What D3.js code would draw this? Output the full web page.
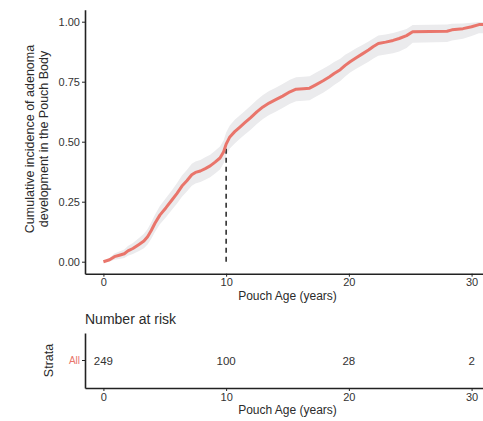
<!DOCTYPE html>
<html lang="en">

<head>
  <meta charset="UTF-8">
  <title>Cumulative incidence of adenoma</title>

  <style>
    * {
      margin: 0;
    }

    body {
      background: #fff;
      font-family: "Liberation Sans", Arial, Helvetica, sans-serif;
    }

    svg {
      display: block;
    }

    .tick text {
      font-size: 11px;
      fill: #333;
    }

    .tick line,
    .domain {
      stroke: #222;
    }

    .title {
      fill: #2b2b2b;
    }
  </style>
</head>

<body>
  <div id="chart"></div>
  <script src="https://cdnjs.cloudflare.com/ajax/libs/d3/7.8.5/d3.min.js"></script>
  <script type="text/javascript">
    // values (years, cumulative incidence, 95% band)
    const times = [0, 0.5, 0.9, 1.3, 1.7, 2.0, 2.4, 2.9, 3.3, 3.6, 3.9, 4.2, 4.6, 5.1, 5.6, 6.0, 6.4, 6.8, 7.2, 7.5,
      7.9, 8.3, 8.7, 9.1, 9.5, 9.8, 10.0, 10.3, 10.7, 11.1, 11.5, 12.0, 12.5, 13.0, 13.5, 14.0, 14.6, 15.2, 15.7,
      16.3, 16.8, 17.3, 17.9, 18.4, 18.8, 19.3, 19.7, 20.1, 20.6, 21.1, 21.6, 22.0, 22.4, 23.0, 23.6, 24.1, 24.7,
      25.2, 28.0, 28.4, 29.3, 30.0, 30.6, 31.0];
    const estimate = [0, 0.008, 0.021, 0.027, 0.033, 0.045, 0.055, 0.072, 0.086, 0.104, 0.130, 0.160, 0.194, 0.225,
      0.258, 0.285, 0.315, 0.337, 0.362, 0.372, 0.378, 0.388, 0.399, 0.415, 0.432, 0.458, 0.490, 0.520, 0.542,
      0.560, 0.578, 0.600, 0.624, 0.645, 0.661, 0.674, 0.690, 0.708, 0.719, 0.721, 0.723, 0.737, 0.754, 0.770,
      0.784, 0.800, 0.818, 0.833, 0.850, 0.866, 0.882, 0.897, 0.909, 0.915, 0.922, 0.930, 0.942, 0.958, 0.960,
      0.966, 0.971, 0.979, 0.988, 0.988];
    const lower = [0, 0.001, 0.008, 0.011, 0.015, 0.025, 0.032, 0.045, 0.056, 0.072, 0.096, 0.124, 0.156, 0.185,
      0.217, 0.242, 0.271, 0.292, 0.316, 0.326, 0.332, 0.341, 0.352, 0.368, 0.384, 0.410, 0.442, 0.472, 0.493,
      0.511, 0.529, 0.550, 0.574, 0.595, 0.611, 0.624, 0.640, 0.658, 0.669, 0.671, 0.673, 0.687, 0.704, 0.721,
      0.736, 0.753, 0.772, 0.788, 0.804, 0.819, 0.833, 0.847, 0.858, 0.863, 0.869, 0.876, 0.890, 0.912, 0.915,
      0.922, 0.929, 0.940, 0.952, 0.952];
    const upper = [0, 0.015, 0.034, 0.043, 0.051, 0.065, 0.078, 0.099, 0.116, 0.136, 0.164, 0.196, 0.232, 0.265,
      0.299, 0.328, 0.359, 0.382, 0.408, 0.418, 0.424, 0.435, 0.446, 0.462, 0.480, 0.506, 0.538, 0.568, 0.591,
      0.609, 0.627, 0.650, 0.674, 0.695, 0.711, 0.724, 0.740, 0.758, 0.769, 0.771, 0.773, 0.787, 0.804, 0.819,
      0.832, 0.846, 0.862, 0.874, 0.889, 0.903, 0.917, 0.930, 0.942, 0.947, 0.953, 0.960, 0.970, 0.986, 0.988,
      0.991, 0.993, 0.996, 0.999, 0.999];

    const medianTime = 10;
    const xTicks = [0, 10, 20, 30];
    const yTicks = [0, 0.25, 0.5, 0.75, 1];

    const strata = ['All'];
    const riskTimes = [0, 10, 20, 30];
    const riskCounts = [249, 100, 28, 2];

    const curveColor = '#E9756B';

    const svg = d3.select('#chart')
      .append('svg')
      .attr('width', 483)
      .attr('height', 421);

    const x = d3.scaleLinear()
      .domain([-1.5, 31.5])
      .range([85, 490]);

    const y = d3.scaleLinear()
      .domain([-0.05, 1.05])
      .range([273.7, 9.7]);

    const rows = times.map((t, i) => ({ t, est: estimate[i], lo: lower[i], hi: upper[i] }));

    // confidence band
    svg.append('path')
      .datum(rows)
      .attr('fill', '#ebebed')
      .attr('d', d3.area()
        .x(d => x(d.t))
        .y0(d => y(d.lo))
        .y1(d => y(d.hi)));

    // median line
    svg.append('line')
      .attr('x1', x(medianTime))
      .attr('x2', x(medianTime))
      .attr('y1', y(0))
      .attr('y2', y(estimate[times.indexOf(medianTime)]))
      .attr('stroke', '#222')
      .attr('stroke-width', 1.5)
      .attr('stroke-dasharray', '5,4');

    // curve
    svg.append('path')
      .datum(rows)
      .attr('fill', 'none')
      .attr('stroke', curveColor)
      .attr('stroke-width', 3)
      .attr('stroke-linejoin', 'round')
      .attr('d', d3.line()
        .x(d => x(d.t))
        .y(d => y(d.est)));

    // axes
    svg.append('g')
      .attr('transform', 'translate(0,273.7)')
      .call(d3.axisBottom(x).tickValues(xTicks).tickSize(3).tickPadding(2).tickSizeOuter(0))
      .call(g => g.select('.domain').attr('stroke-width', 1.6));

    svg.append('g')
      .attr('transform', 'translate(85,0)')
      .call(d3.axisLeft(y).tickValues(yTicks).tickFormat(d3.format('.2f')).tickSize(3).tickPadding(2).tickSizeOuter(0))
      .call(g => g.select('.domain').attr('stroke-width', 1.6));

    svg.append('text')
      .attr('class', 'title')
      .attr('x', 287.5)
      .attr('y', 300)
      .attr('text-anchor', 'middle')
      .style('font-size', '12px')
      .text('Pouch Age (years)');

    const yTitle = svg.append('text')
      .attr('class', 'title')
      .attr('transform', 'translate(34,139) rotate(-90)')
      .attr('text-anchor', 'middle')
      .style('font-size', '12.5px');
    yTitle.append('tspan').attr('x', 0).attr('dy', 0).text('Cumulative incidence of adenoma');
    yTitle.append('tspan').attr('x', 0).attr('dy', 13.5).text('development in the Pouch Body');

    // number at risk table
    svg.append('text')
      .attr('class', 'title')
      .attr('x', 85)
      .attr('y', 324)
      .style('font-size', '14px')
      .text('Number at risk');

    const ys = d3.scaleBand()
      .domain(strata)
      .range([333, 388]);

    svg.selectAll('.risk')
      .data(riskTimes)
      .enter().append('text')
      .attr('class', 'risk')
      .attr('x', d => x(d))
      .attr('y', ys('All') + ys.bandwidth() / 2)
      .attr('dy', '0.35em')
      .attr('text-anchor', 'middle')
      .style('font-size', '11.5px')
      .attr('fill', '#333')
      .text((d, i) => riskCounts[i]);

    svg.append('g')
      .attr('transform', 'translate(0,388)')
      .call(d3.axisBottom(x).tickValues(xTicks).tickSize(3).tickPadding(2).tickSizeOuter(0))
      .call(g => g.select('.domain').attr('stroke-width', 1.6));

    svg.append('g')
      .attr('transform', 'translate(85,0)')
      .call(d3.axisLeft(ys).tickSize(3).tickPadding(2).tickSizeOuter(0))
      .call(g => g.select('.domain').attr('stroke-width', 1.6))
      .call(g => g.selectAll('.tick text').style('fill', curveColor).style('font-size', '10px'));

    svg.append('text')
      .attr('class', 'title')
      .attr('x', 287.5)
      .attr('y', 414)
      .attr('text-anchor', 'middle')
      .style('font-size', '12px')
      .text('Pouch Age (years)');

    svg.append('text')
      .attr('class', 'title')
      .attr('transform', 'translate(53,360.5) rotate(-90)')
      .attr('text-anchor', 'middle')
      .style('font-size', '12.5px')
      .text('Strata');
  </script>
</body>

</html>
